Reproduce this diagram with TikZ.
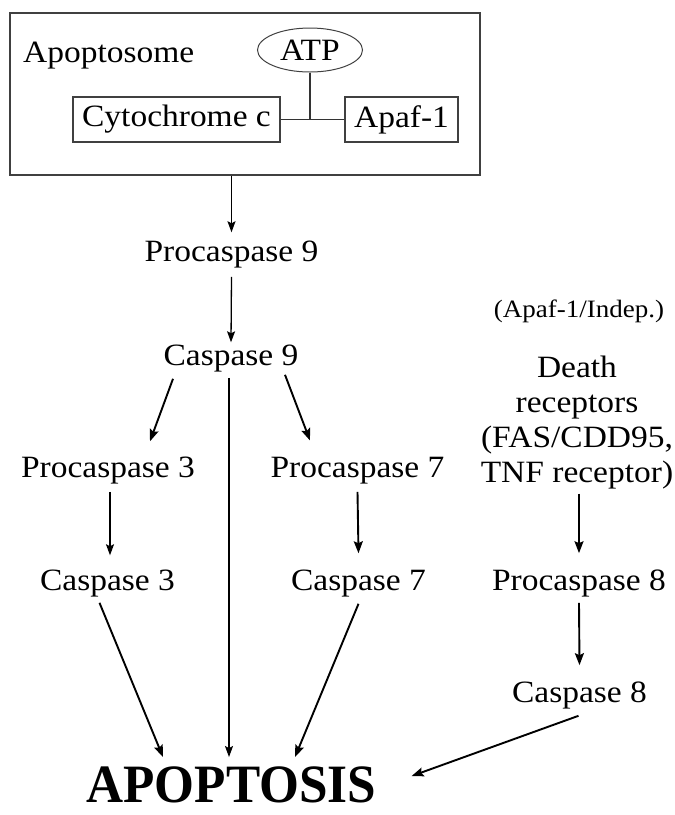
\documentclass[tikz,border=0pt]{standalone}
\usepackage{fontspec}
\setmainfont{Liberation Serif}[FakeStretch=1.08]
\newfontfamily\apopfont{Liberation Serif}[FakeStretch=0.95]
\usetikzlibrary{arrows.meta,calc,shapes.geometric}
\begin{document}
\begin{tikzpicture}[x=1pt,y=-1pt,
  lbl/.style={font=\fontsize{31}{35}\selectfont,inner sep=0pt,anchor=base},
  smalllbl/.style={font=\fontsize{25}{28}\selectfont,inner sep=0pt,anchor=base},
  boxed/.style={draw=black!75,line width=1.3pt,font=\fontsize{31}{35}\selectfont,inner sep=0pt,minimum height=45pt},
  arr/.style={-{Stealth[length=11pt,width=8pt,inset=2pt]},line width=1.3pt},
  arrthick/.style={-{Stealth[length=12pt,width=9pt,inset=2pt]},line width=1.9pt}
]
\useasboundingbox (0,0) rectangle (675,815);

% Apoptosome complex
\node[draw=black!75,line width=1.3pt,minimum width=470pt,minimum height=162pt,inner sep=0pt] (apbox) at (245,94) {};
\node[lbl,anchor=base west] (apotitle) at (23,62) {Apoptosome};
\node[ellipse,draw=black!75,line width=1pt,inner sep=0pt,minimum width=105pt,minimum height=44pt,font=\fontsize{31}{35}\selectfont] (atp) at (310,50) {ATP};
\node[boxed,minimum width=207pt] (cyto) at (176.5,119.5) {Cytochrome c};
\node[boxed,minimum width=113pt] (apaf) at (401.5,119.5) {Apaf-1};
\draw[line width=1.3pt,black!80] (cyto.east) -- (apaf.west);
\draw[line width=1.3pt,black!80] (atp.south) -- (atp.south |- cyto.east);

% Text nodes
\node[lbl] (p9) at (231.5,261) {Procaspase 9};
\node[lbl] (c9) at (231,365) {Caspase 9};
\node[lbl] (p3) at (108,477) {Procaspase 3};
\node[lbl] (c3) at (107.5,590) {Caspase 3};
\node[lbl] (p7) at (357.5,477) {Procaspase 7};
\node[lbl] (c7) at (358.5,590) {Caspase 7};
\node[smalllbl] (indep) at (579,317) {(Apaf-1/Indep.)};
\node[font=\fontsize{31}{35}\selectfont,inner sep=0pt,anchor=north,align=center] (dr) at (577,356) {Death\\receptors\\(FAS/CDD95,\\TNF receptor)};
\node[lbl] (p8) at (579,590) {Procaspase 8};
\node[lbl] (c8) at (579.5,702) {Caspase 8};
\node[inner sep=0pt,anchor=base,font=\apopfont\fontsize{54}{58}\selectfont\bfseries] (apop) at (231.5,802) {APOPTOSIS};

% Connectors
\draw[arr] (apbox.south -| p9.north) -- ($(p9.north)+(0,-8)$);
\draw[arr] ($(p9.south)+(0,9)$) -- ($(c9.north)+(0,-2)$);
\draw[arrthick] ($(c9.south)+(-58,7)$) -- ($(p3.north)+(42,-15)$);
\draw[arrthick] ($(c9.south)+(54,3)$) -- ($(p7.north)+(-47.5,-16)$);
\draw[arr] ($(c9.south)+(-2,6)$) -- ($(apop.north)+(-2.5,-9)$);
\draw[arr] ($(p3.south)+(2,8)$) -- ($(c3.north)+(2.5,-14)$);
\draw[arrthick] ($(p7.south)+(0,8)$) -- ($(c7.north)+(0,-16)$);
\draw[arrthick] ($(c3.south)+(-8,6)$) -- ($(apop.north)+(-68.5,-9)$);
\draw[arrthick] ($(c7.south)+(0,7)$) -- ($(apop.north)+(63.5,-9)$);
\draw[arrthick] ($(dr.south)+(2,4)$) -- ($(p8.north)+(0,-16)$);
\draw[arrthick] ($(p8.south)+(0,6)$) -- ($(c8.north)+(0,-16)$);
\draw[arrthick] ($(c8.south)+(-1,7)$) -- ($(apop.north east)+(35,10)$);
\end{tikzpicture}
\end{document}
